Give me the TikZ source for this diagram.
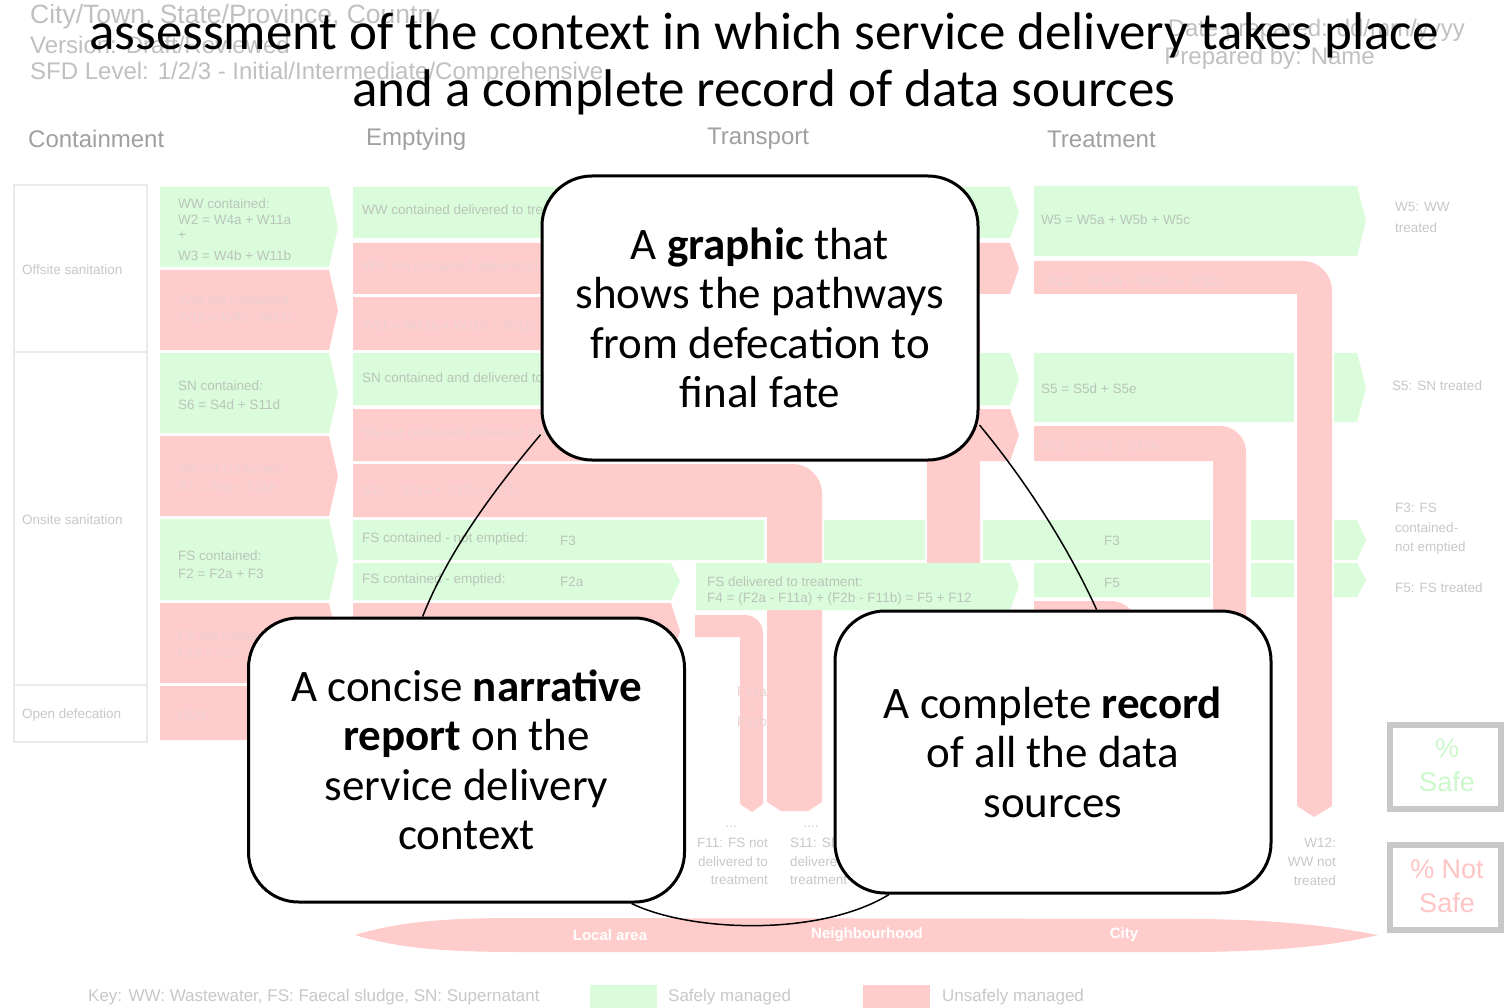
\documentclass[tikz,border=0pt]{standalone}
\usepackage{fontspec}
\setmainfont{Carlito}
\newfontfamily\sfdfont{Liberation Sans}
\definecolor{sgreen}{RGB}{218,252,218}
\definecolor{sred}{RGB}{255,204,204}
\definecolor{gtxt}{RGB}{186,196,186}
\definecolor{rtxt}{RGB}{236,208,208}
\definecolor{ltxt}{RGB}{200,200,200}
\definecolor{htxt}{RGB}{192,192,192}
\definecolor{ctxt}{RGB}{160,160,160}
\definecolor{bgray}{RGB}{200,200,200}
\definecolor{lgray}{RGB}{234,234,234}
\definecolor{safeg}{RGB}{204,248,204}
\definecolor{safer}{RGB}{255,196,196}
\pgfdeclarelayer{sfd}
\pgfdeclarelayer{arcs}
\pgfsetlayers{sfd,arcs,main}
\newcommand\chevbox[5]{\fill[#5] (#1,#2) -- ({#3-9},#2) -- (#3,{(#2+#4)/2}) -- ({#3-9},#4) -- (#1,#4) -- cycle;}
\begin{document}
\begin{tikzpicture}[x=1pt,y=-1pt,
 gf/.style={fill=sgreen}, rf/.style={fill=sred},
 hd/.style={font=\sfdfont\fontsize{24}{28}\selectfont, text=htxt, inner sep=0, anchor=west},
 colh/.style={font=\sfdfont\fontsize{24}{28}\selectfont, text=ctxt, inner sep=0, anchor=west},
 gt/.style={font=\sfdfont\fontsize{13.5}{16}\selectfont, text=gtxt, inner sep=0, anchor=west},
 rt/.style={gt, text=rtxt},
 lt/.style={gt, text=ltxt},
 bandtxt/.style={font=\sfdfont\bfseries\fontsize{15}{17}\selectfont, text=white, inner sep=0},
 keytxt/.style={font=\sfdfont\fontsize{17}{20}\selectfont, text=ltxt, inner sep=0, anchor=west},
 bubble/.style={draw, line width=3, rounded corners=50, fill=white, align=center, inner sep=0,
   minimum width=436, minimum height=284, font=\fontsize{45}{49.5}\selectfont},
 titletxt/.style={font=\fontsize{53}{60}\selectfont, inner sep=0, anchor=base},
 link/.style={line width=1.5}]
\useasboundingbox (0,0) rectangle (1504,1008);
\begin{pgfonlayer}{sfd}
\fill[white] (0,0) rectangle (1504,1008);
% header
\node[hd, font=\sfdfont\fontsize{26.5}{28}\selectfont] (h1) at (30,17) {City/Town, State/Province, Country};
\node[hd] (h2) at (30,45) {Version: Draft/Reviewed};
\node[hd] (h3) at (30,73) {SFD Level: 1/2/3 - Initial/Intermediate/Comprehensive};
\node[hd, anchor=east] (h4) at (1465,30) {Date prepared: dd/mm/yyyy};
\node[hd, anchor=east] (h5) at (1375,58) {Prepared by: Name};
\node[colh] (k1) at (28,139) {Containment};
\node[colh] (k2) at (366,139) {Emptying};
\node[colh] (k3) at (707,139) {Transport};
\node[colh] (k4) at (1047,139) {Treatment};
% left boxes
\draw[lgray, line width=1.5] (14,185) rectangle (147,352) (14,352) rectangle (147,685) (14,685) rectangle (147,742);
\node[lt] (l1) at (22,270) {Offsite sanitation};
\node[lt] (l2) at (22,520) {Onsite sanitation};
\node[lt] (l3) at (22,715) {Open defecation};
% containment
\chevbox{160}{187}{338}{267}{gf}
\chevbox{160}{270}{338}{350}{rf}
\chevbox{160}{353}{338}{433}{gf}
\chevbox{160}{436}{338}{516}{rf}
\chevbox{160}{519}{338}{600}{gf}
\chevbox{160}{603}{338}{683}{rf}
\chevbox{160}{686}{338}{740}{rf}
% emptying / transport
\chevbox{353}{187}{1019}{238}{gf}
\chevbox{353}{243}{1019}{294}{rf}
\fill[rf] (353,297) -- (952,297) .. controls (967,297) and (980,310) .. (980,325) -- (980,565) -- (927,565) -- (927,350) -- (353,350) -- cycle;
\chevbox{353}{353}{1019}{405}{gf}
\chevbox{353}{409}{1019}{461}{rf}
\fill[rf] (353,464) -- (792,464) .. controls (809,464) and (822,477) .. (822,494) -- (822,802) -- (808,811) -- (781,811) -- (767,802) -- (767,517) -- (353,517) -- cycle;
\chevbox{353}{603}{680}{660}{rf}
\fill[rf] (695,615) -- (745,615) .. controls (755,615) and (763,623) .. (763,633) -- (763,804) -- (752,812) -- (740,804) -- (740,637) -- (695,637) -- cycle;
% treatment
\chevbox{1034}{186}{1366}{256}{gf}
\fill[rf] (1034,261) -- (1302,261) .. controls (1319,261) and (1332,274) .. (1332,291) -- (1332,806) -- (1314,817) -- (1297,806) -- (1297,294) -- (1034,294) -- cycle;
\fill[gf] (1034,353) rectangle (1294,422);
\chevbox{1334}{353}{1366}{422}{gf}
\fill[rf] (1034,426) -- (1221,426) .. controls (1234,426) and (1246,438) .. (1246,451) -- (1246,810) -- (1213,810) -- (1213,461) -- (1034,461) -- cycle;
\fill[rf] (1034,601) -- (1110,601) .. controls (1126,601) and (1138,613) .. (1138,629) -- (1138,810) -- (1100,810) -- (1100,640) -- (1034,640) -- cycle;
% faecal sludge rows
\fill[gf] (353,520) rectangle (764,560) (824,520) rectangle (925,560) (983,520) rectangle (1210,560) (1251,520) rectangle (1294,560);
\chevbox{1334}{520}{1366}{560}{gf}
\chevbox{353}{563}{680}{600}{gf}
\chevbox{696}{563}{1019}{610}{gf}
\fill[gf] (1034,563) rectangle (1210,597) (1251,563) rectangle (1294,597);
\chevbox{1334}{563}{1366}{597}{gf}
% containment texts
\node[gt] (c1) at (178,204) {WW contained:};
\node[gt] (c2) at (178,220) {W2 = W4a + W11a};
\node[gt] (c3) at (178,236) {+};
\node[gt] (c4) at (178,256) {W3 = W4b + W11b};
\node[rt] (c5) at (178,300) {WW not contained:};
\node[rt] (c6) at (178,318) {W15 = W4c - W11c};
\node[gt] (c7) at (178,386) {SN contained:};
\node[gt] (c8) at (178,405) {S6 = S4d + S11d};
\node[rt] (c9) at (178,469) {SN not contained:};
\node[rt] (c10) at (178,487) {S7 = S4e - S11e};
\node[gt] (c11) at (178,556) {FS contained:};
\node[gt] (c12) at (178,574) {F2 = F2a + F3};
\node[rt] (c13) at (178,636) {FS not contained:};
\node[rt] (c14) at (178,653) {F10 = F2c};
\node[rt] (c15) at (178,715) {OD9};
% emptying texts
\node[gt] (e1) at (362,210) {WW contained delivered to treatment};
\node[rt] (e2) at (362,266) {WW not contained delivered to treatment};
\node[rt] (e3) at (362,326) {W11 = W11a + W11b + W11c};
\node[gt] (e4) at (362,378) {SN contained and delivered to treatment};
\node[rt] (e5) at (362,433) {SN not contained delivered to treatment};
\node[rt] (e6) at (362,490) {S11 = S11a + S11b + S11c};
\node[gt] (e7) at (362,539) {FS contained - not emptied:};
\node[gt] (e8) at (560,541) {F3};
\node[gt] (e9) at (362,580) {FS contained - emptied:};
\node[gt] (e10) at (560,582) {F2a};
\node[gt] (e12) at (707,582) {FS delivered to treatment:};
\node[gt] (e13) at (707,599) {F4 = (F2a - F11a) + (F2b - F11b) = F5 + F12};
\node[rt, anchor=center] (e14) at (752,692) {F11a};
\node[rt, anchor=center] (e15) at (752,707) {+};
\node[rt, anchor=center] (e16) at (752,722) {F11b};
\node[lt, anchor=center] (d1) at (731,827) {...};
\node[lt, anchor=center] (d2) at (811,827) {....};
\node[lt, anchor=north east, align=right, font=\sfdfont\fontsize{13.5}{18.5}\selectfont] (f1) at (768,838) {F11: FS not\\delivered to\\treatment};
\node[lt, anchor=north west, align=left, font=\sfdfont\fontsize{13.5}{18.5}\selectfont] (f2) at (790,838) {S11: SN not\\delivered to\\treatment};
% treatment texts
\node[gt] (r1) at (1041,220) {W5 = W5a + W5b + W5c};
\node[rt] (r2) at (1044,281) {W12 = W12a + W12b + W12c};
\node[gt] (r3) at (1041,389) {S5 = S5d + S5e};
\node[rt] (r4) at (1041,446) {S10 = S10d + S10e};
\node[gt, anchor=center] (r5) at (1112,541) {F3};
\node[gt, anchor=center] (r6) at (1112,583) {F5};
\node[lt] (q1) at (1395,207) {W5: WW};
\node[lt] (q2) at (1395,228) {treated};
\node[lt] (q3) at (1392,386) {S5: SN treated};
\node[lt] (q4) at (1395,508) {F3: FS};
\node[lt] (q5) at (1395,528) {contained-};
\node[lt] (q6) at (1395,548) {not emptied};
\node[lt] (q7) at (1395,588) {F5: FS treated};
\node[lt, anchor=north east, align=right, font=\sfdfont\fontsize{13.5}{19}\selectfont] (q8) at (1336,838) {W12:\\WW not\\treated};
% safe boxes
\draw[bgray, line width=6] (1390,725) rectangle (1501,809);
\node[font=\sfdfont\fontsize{27}{34}\selectfont, text=safeg, align=center, inner sep=0] (s1) at (1447,765) {\%\\Safe};
\draw[bgray, line width=6] (1390,845) rectangle (1501,930);
\node[font=\sfdfont\fontsize{27}{34}\selectfont, text=safer, align=center, inner sep=0] (s2) at (1447,886) {\% Not\\Safe};
% scale band
\fill[rf] (355,935) .. controls (400,921) and (450,918) .. (520,918) -- (1200,919) .. controls (1290,920) and (1340,928) .. (1378,935) .. controls (1340,944) and (1290,951) .. (1200,952) -- (520,952) .. controls (450,952) and (400,949) .. (355,935) -- cycle;
\node[bandtxt] (b1) at (610,935) {Local area};
\node[bandtxt] (b2) at (867,935) {Neighbourhood};
\node[bandtxt] (b3) at (1124,935) {City};
% key
\node[keytxt] (y1) at (88,997) {Key: WW: Wastewater, FS: Faecal sludge, SN: Supernatant};
\fill[gf] (590,985) rectangle (657,1010);
\node[keytxt] (y2) at (668,997) {Safely managed};
\fill[rf] (863,985) rectangle (930,1010);
\node[keytxt] (y3) at (942,997) {Unsafely managed};
\end{pgfonlayer}
% title
\node[titletxt] (t1) at (764,50) {assessment of the context in which service delivery takes place};
\node[titletxt] (t2) at (764,107) {and a complete record of data sources};
% bubbles
\node[bubble] (gbox) at (760,318) {A \textbf{graphic} that\\shows the pathways\\from defecation to\\final fate};
\node[bubble] (nbox) at (466.5,760) {A concise \textbf{narrative}\\\textbf{report} on the\\service delivery\\context};
\node[bubble, minimum height=282] (rbox) at (1053,752) {A complete \textbf{record}\\of all the data\\sources};
\begin{pgfonlayer}{arcs}
\draw[link] (gbox.208) .. controls (494,490) and (449,550) .. (nbox.107);
\draw[link] (gbox.-26) .. controls (1025,480) and (1067,545) .. (rbox.73);
\draw[link] (nbox.-41) .. controls (690,932) and (820,937) .. (rbox.221);
\end{pgfonlayer}
\end{tikzpicture}
\end{document}
